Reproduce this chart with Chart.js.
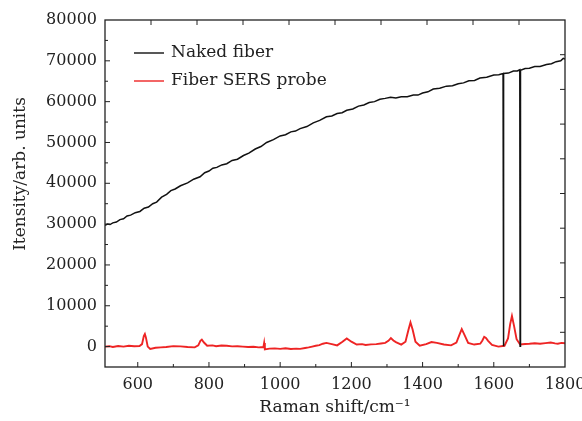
<!DOCTYPE html>
<html>
<head>
<meta charset="utf-8">
<script src="https://cdn.jsdelivr.net/npm/chart.js@4"></script>
<style>
  html, body { margin: 0; padding: 0; background: #fff; }
  #wrap { width: 582px; height: 421px; }
</style>
</head>
<body>
<div id="wrap"><canvas id="ramanChart"></canvas></div>
<script>
// tick labels
const xTicks = [600, 800, 1000, 1200, 1400, 1600, 1800];
const yTicks = [0, 10000, 20000, 30000, 40000, 50000, 60000, 70000, 80000];

// Naked fiber (black)
const nakedX = [508, 515, 522, 530, 540, 550, 560, 570, 580, 593, 606, 618, 630, 642, 653, 667, 681, 693, 705, 720,
    740, 757, 775, 788, 800, 811, 822, 836, 850, 865, 880, 897, 912, 930, 946, 962, 981, 1000, 1015, 1030,
    1043, 1056, 1075, 1093, 1111, 1130, 1145, 1160, 1174, 1187, 1204, 1220, 1235, 1250, 1265, 1280, 1295, 1310, 1325, 1340,
    1357, 1374, 1387, 1400, 1415, 1430, 1448, 1467, 1484, 1500, 1515, 1530, 1546, 1561, 1580, 1600, 1614, 1626, 1627, 1628,
    1641, 1655, 1666, 1673, 1674, 1675, 1688, 1700, 1715, 1730, 1748, 1762, 1775, 1788, 1795, 1800];
const nakedY = [29700, 30000, 29900, 30300, 30500, 31100, 31300, 32000, 32200, 32800, 33100, 33900, 34200, 35000, 35400, 36600, 37300, 38200, 38600, 39400,
    40100, 41000, 41600, 42600, 43000, 43700, 43900, 44500, 44800, 45600, 45900, 46800, 47400, 48400, 49000, 50000, 50700, 51600, 51900, 52600,
    52800, 53400, 53900, 54800, 55400, 56300, 56500, 57100, 57300, 57900, 58200, 58900, 59200, 59800, 60000, 60600, 60800, 61100, 60900, 61200,
    61200, 61600, 61600, 62100, 62400, 63100, 63300, 63800, 63900, 64400, 64600, 65100, 65200, 65800, 66000, 66500, 66600, 66900, 100, 66900,
    67000, 67500, 67500, 67800, 100, 67700, 68100, 68200, 68600, 68600, 69100, 69300, 69800, 70000, 70600, 70400];

// Fiber SERS probe (red)
const probeX = [508, 520, 530, 545, 560, 575, 590, 605, 612, 617, 620, 623, 628, 635, 650, 665, 680, 700, 720, 740,
    760, 770, 776, 780, 786, 795, 810, 820, 835, 850, 865, 880, 895, 910, 925, 940, 953, 955, 957, 970,
    985, 1000, 1015, 1030, 1045, 1056, 1070, 1080, 1090, 1100, 1110, 1120, 1130, 1145, 1160, 1175, 1187, 1200, 1215, 1230,
    1240, 1255, 1270, 1283, 1295, 1304, 1311, 1318, 1325, 1340, 1352, 1360, 1366, 1372, 1380, 1392, 1410, 1425, 1440, 1460,
    1480, 1495, 1504, 1510, 1517, 1528, 1545, 1562, 1568, 1573, 1578, 1584, 1595, 1613, 1630, 1640, 1646, 1651, 1657, 1664,
    1674, 1688, 1700, 1715, 1730, 1745, 1760, 1772, 1780, 1790, 1800];
const probeY = [0, 100, -100, 150, 0, 200, 100, 150, 600, 2600, 3100, 2200, 0, -600, -300, -200, -100, 100, 50, -100,
    -200, 300, 1400, 1700, 1000, 200, 300, 100, 250, 200, 50, 100, 0, -100, -50, -200, -100, 900, -700, -500,
    -450, -550, -400, -600, -500, -550, -350, -200, 0, 200, 350, 700, 900, 600, 300, 1200, 2000, 1200, 500, 600,
    400, 550, 600, 750, 900, 1400, 2100, 1500, 1100, 500, 1200, 4000, 5900, 4200, 1200, 200, 600, 1100, 900, 500,
    300, 1000, 3000, 4300, 3000, 900, 500, 700, 1500, 2400, 2100, 1400, 400, 0, 200, 2000, 5500, 7500, 5000, 1800,
    500, 650, 700, 800, 700, 850, 1000, 800, 700, 900, 800];

const serif = "'DejaVu Serif', serif";

function toPoints(xs, ys) {
    return xs.map((x, i) => ({x: x, y: ys[i]}));
}

const data = {
    datasets: [
        {
            label: 'Naked fiber',
            borderColor: '#111111',
            backgroundColor: '#111111',
            borderWidth: 1.5,
            data: toPoints(nakedX, nakedY)
        },
        {
            label: 'Fiber SERS probe',
            borderColor: '#ee2424',
            backgroundColor: '#ee2424',
            borderWidth: 1.9,
            data: toPoints(probeX, probeY)
        }
    ]
};

// frame, inward ticks, legend and y title
const framePlugin = {
    id: 'frame',
    afterDraw(chart) {
        const ctx = chart.ctx;
        const a = chart.chartArea;
        const sx = chart.scales.x, sy = chart.scales.y;
        const st = chart.scales.xTop, sr = chart.scales.yRight;
        ctx.save();
        ctx.strokeStyle = '#222';
        ctx.lineWidth = 1.3;
        ctx.strokeRect(a.left, a.top, a.right - a.left, a.bottom - a.top);
        ctx.lineWidth = 1;
        ctx.beginPath();
        for (let v = 600; v < 1800; v += 100) {
            const px = sx.getPixelForValue(v);
            const len = v % 200 === 0 ? 5 : 3;
            ctx.moveTo(px, a.bottom);
            ctx.lineTo(px, a.bottom - len);
        }
        for (let v = 0; v < 80000; v += 5000) {
            const py = sy.getPixelForValue(v);
            const len = v % 10000 === 0 ? 5 : 3;
            ctx.moveTo(a.left, py);
            ctx.lineTo(a.left + len, py);
        }
        for (let v = 1; v < 10; v++) {
            const px = st.getPixelForValue(v);
            ctx.moveTo(px, a.top);
            ctx.lineTo(px, a.top + 5);
            const py = sr.getPixelForValue(v);
            ctx.moveTo(a.right, py);
            ctx.lineTo(a.right - 5, py);
        }
        ctx.stroke();

        // legend
        ctx.font = '17px ' + serif;
        ctx.textBaseline = 'middle';
        ctx.textAlign = 'left';
        chart.data.datasets.forEach((ds, i) => {
            const y = 53 + i * 28;
            ctx.strokeStyle = ds.borderColor;
            ctx.lineWidth = 1.4;
            ctx.beginPath();
            ctx.moveTo(134, y);
            ctx.lineTo(164, y);
            ctx.stroke();
            ctx.fillStyle = '#222';
            ctx.fillText(ds.label, 171, y);
        });

        // y title
        ctx.translate(21, 174);
        ctx.rotate(-Math.PI / 2);
        ctx.textAlign = 'center';
        ctx.fillText('Itensity/arb. units', 0, 0);
        ctx.restore();
    }
};

const plain = v => String(v);

const ctx = document.getElementById('ramanChart').getContext('2d');
new Chart(ctx, {
    type: 'line',
    data: data,
    options: {
        responsive: true,
        maintainAspectRatio: false,
        animation: false,
        devicePixelRatio: 1,
        elements: {point: {radius: 0}, line: {tension: 0}},
        layout: {padding: {left: 0, right: 17, top: 20, bottom: 0}},
        plugins: {legend: {display: false}, tooltip: {enabled: false}},
        scales: {
            x: {
                type: 'linear',
                min: 508,
                max: 1800,
                grid: {display: false, drawTicks: false},
                border: {display: false},
                afterBuildTicks: s => { s.ticks = xTicks.map(v => ({value: v})); },
                afterFit: s => { s.height = 54; s.paddingLeft = 0; s.paddingRight = 0; },
                ticks: {color: '#222', padding: 8, font: {family: serif, size: 16}, callback: plain},
                title: {
                    display: true,
                    text: 'Raman shift/cm⁻¹',
                    color: '#222',
                    font: {family: serif, size: 17},
                    padding: {top: 0, bottom: 3}
                }
            },
            y: {
                type: 'linear',
                min: -5000,
                max: 80000,
                grid: {display: false, drawTicks: false},
                border: {display: false},
                afterBuildTicks: s => { s.ticks = yTicks.map(v => ({value: v})); },
                afterFit: s => { s.width = 105; s.paddingTop = 0; s.paddingBottom = 0; },
                ticks: {color: '#222', padding: 8, font: {family: serif, size: 16}, callback: plain}
            },
            xTop: {
                type: 'linear', position: 'top', min: 0, max: 10, display: false
            },
            yRight: {
                type: 'linear', position: 'right', min: 0, max: 10, reverse: true, display: false
            }
        }
    },
    plugins: [framePlugin]
});
</script>
</body>
</html>
